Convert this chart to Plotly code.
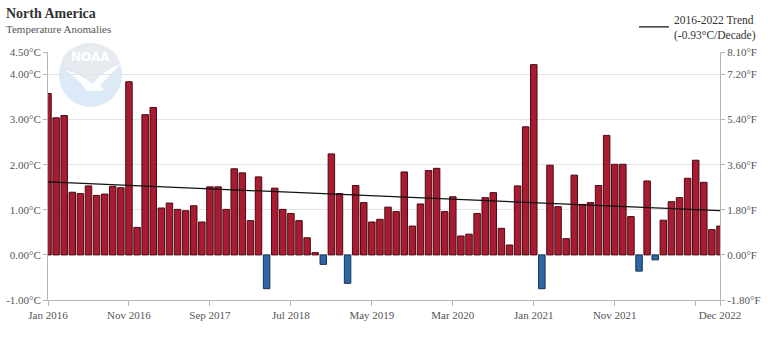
import plotly.graph_objects as go

# Monthly temperature anomalies for North America, Jan 2016 - Dec 2022 (°C)
months = [f"{m} {y}" for y in range(2016, 2023) for m in
          ["Jan", "Feb", "Mar", "Apr", "May", "Jun", "Jul", "Aug", "Sep", "Oct", "Nov", "Dec"]]
anomalies_c = [
    3.58, 3.04, 3.09, 1.39, 1.36, 1.53, 1.32, 1.35, 1.52, 1.49, 3.84, 0.61,   # 2016
    3.11, 3.27, 1.04, 1.15, 1.01, 0.98, 1.09, 0.73, 1.51, 1.51, 1.01, 1.91,   # 2017
    1.82, 0.76, 1.73, -0.75, 1.48, 1.01, 0.92, 0.76, 0.38, 0.05, -0.21, 2.24, # 2018
    1.36, -0.63, 1.54, 1.16, 0.73, 0.79, 1.06, 0.96, 1.84, 0.64, 1.13, 1.87, # 2019
    1.92, 0.96, 1.29, 0.42, 0.46, 0.92, 1.27, 1.38, 0.59, 0.22, 1.53, 2.84,   # 2020
    4.22, -0.75, 1.99, 1.07, 0.36, 1.77, 1.12, 1.16, 1.54, 2.65, 2.01, 2.01, # 2021
    0.85, -0.36, 1.64, -0.11, 0.77, 1.18, 1.27, 1.70, 2.10, 1.61, 0.56, 0.64, # 2022
]
trend_months = ["Jan 2016", "Dec 2022"]
trend_c = [1.62, 0.98]
trend_name = "2016-2022 Trend<br>(-0.93°C/Decade)"

x_tick_labels = ["Jan 2016", "Nov 2016", "Sep 2017", "Jul 2018", "May 2019",
                 "Mar 2020", "Jan 2021", "Nov 2021", "", "Dec 2022"]
x_tick_months = ["Jan 2016", "Nov 2016", "Sep 2017", "Jul 2018", "May 2019",
                 "Mar 2020", "Jan 2021", "Nov 2021", "Sep 2022", "Dec 2022"]
c_ticks = [-1.0, 0.0, 1.0, 2.0, 3.0, 4.0, 4.5]
c_tick_labels = ["-1.00°C", "0.00°C", "1.00°C", "2.00°C", "3.00°C", "4.00°C", "4.50°C"]
f_ticks = [-1.8, 0.0, 1.8, 3.6, 5.4, 7.2, 8.1]
f_tick_labels = ["-1.80°F", "0.00°F", "1.80°F", "3.60°F", "5.40°F", "7.20°F", "8.10°F"]

RED, RED_EDGE = "#a81b30", "#4a0a14"
BLUE, BLUE_EDGE = "#2e67a6", "#17304f"
FONT = "Liberation Serif, Times New Roman, serif"

idx = {m: i for i, m in enumerate(months)}
xs = list(range(len(months)))

fig = go.Figure()
fig.add_trace(go.Bar(
    x=xs, y=anomalies_c, width=0.8,
    marker=dict(color=[RED if v >= 0 else BLUE for v in anomalies_c],
                line=dict(color=[RED_EDGE if v >= 0 else BLUE_EDGE for v in anomalies_c], width=1)),
    customdata=months, hovertemplate="%{customdata}: %{y:.2f}°C<extra></extra>",
    showlegend=False,
))
# same values in °F on the secondary axis (invisible, keeps the °F axis alive)
fig.add_trace(go.Scatter(
    x=xs, y=[v * 1.8 for v in anomalies_c], yaxis="y2", mode="markers",
    marker=dict(opacity=0), hoverinfo="skip", showlegend=False,
))
fig.add_trace(go.Scatter(
    x=[idx[m] for m in trend_months], y=trend_c, mode="lines",
    line=dict(color="#111111", width=1.3), name=trend_name,
))

# plot-area geometry in pixels (used to place the watermark and titles)
W, H = 768, 346
L, R, T, B = 48, 48, 52, 46
PW, PH = W - L - R, H - T - B


def px(x, y):
    return (x - L) / PW, (H - B - y) / PH


def path(points):
    out = []
    for cmd, pts in points:
        coords = " ".join(f"{px(a, b)[0]:.4f},{px(a, b)[1]:.4f}" for a, b in pts)
        out.append(f"{cmd} {coords}")
    return " ".join(out) + " Z"


cx0, cy0 = px(59, 43)
cx1, cy1 = px(122, 107)
shapes = [
    dict(type="circle", xref="paper", yref="paper", x0=cx0, y0=cy1, x1=cx1, y1=cy0,
         fillcolor="#dbeaf6", line=dict(width=0), layer="below"),
    dict(type="path", xref="paper", yref="paper", layer="below", line=dict(width=0),
         fillcolor="#e7eaef",
         path=path([("M", [(61, 66)]), ("C", [(63, 36), (118, 36), (120, 66)]),
                    ("Q", [(104, 70), (92, 84)]), ("Q", [(82, 72), (61, 66)])])),
    dict(type="path", xref="paper", yref="paper", layer="below", line=dict(width=0),
         fillcolor="#ffffff",
         path=path([("M", [(65, 70)]), ("Q", [(82, 74), (92, 84)]),
                    ("Q", [(104, 70), (121, 64)]), ("Q", [(108, 76), (100, 86)]),
                    ("L", [(104, 90)]), ("Q", [(94, 92), (86, 90)]),
                    ("Q", [(78, 78), (65, 70)])])),
]

tx, ty = px(4, 14)
sx, sy = px(4, 29)
nx, ny = px(90, 57)
annotations = [
    dict(text="<b>North America</b>", x=tx, y=ty, xref="paper", yref="paper",
         xanchor="left", yanchor="middle", showarrow=False,
         font=dict(family=FONT, size=14, color="#333333")),
    dict(text="Temperature Anomalies", x=sx, y=sy, xref="paper", yref="paper",
         xanchor="left", yanchor="middle", showarrow=False,
         font=dict(family=FONT, size=11, color="#555555")),
    dict(text="<b>NOAA</b>", x=nx, y=ny, xref="paper", yref="paper",
         xanchor="center", yanchor="middle", showarrow=False,
         font=dict(family="DejaVu Sans, sans-serif", size=12, color="#ffffff")),
]

lx, ly = px(634, 27)
fig.update_layout(
    width=W, height=H, margin=dict(l=L, r=R, t=T, b=B, autoexpand=False),
    paper_bgcolor="white", plot_bgcolor="white",
    font=dict(family=FONT, size=11, color="#555555"),
    bargap=0.2,
    xaxis=dict(
        range=[0, len(months) - 1], tickmode="array",
        tickvals=[idx[m] for m in x_tick_months], ticktext=x_tick_labels,
        showgrid=False, zeroline=False, showline=True, linecolor="#b5b5b5", linewidth=1,
        ticks="outside", ticklen=5, tickcolor="#b5b5b5", tickfont=dict(size=11, color="#555555"),
        automargin=False,
    ),
    yaxis=dict(
        range=[c_ticks[0], c_ticks[-1]], tickmode="array",
        tickvals=c_ticks, ticktext=c_tick_labels,
        showgrid=True, gridcolor="#e3e3e3", gridwidth=1, zeroline=False,
        showline=True, linecolor="#b5b5b5", linewidth=1,
        ticks="outside", ticklen=4, tickcolor="#b5b5b5", tickfont=dict(size=11, color="#555555"),
        automargin=False,
    ),
    yaxis2=dict(
        range=[f_ticks[0], f_ticks[-1]], overlaying="y", side="right", tickmode="array",
        tickvals=f_ticks, ticktext=f_tick_labels, showgrid=False, zeroline=False,
        showline=True, linecolor="#b5b5b5", linewidth=1,
        ticks="outside", ticklen=4, tickcolor="#b5b5b5", tickfont=dict(size=11, color="#555555"),
        automargin=False,
    ),
    legend=dict(x=lx, y=ly, xanchor="left", yanchor="middle", bgcolor="rgba(0,0,0,0)",
                font=dict(family=FONT, size=11.5, color="#333333"), itemwidth=30),
    shapes=shapes, annotations=annotations,
)

fig.write_html("out.html")
